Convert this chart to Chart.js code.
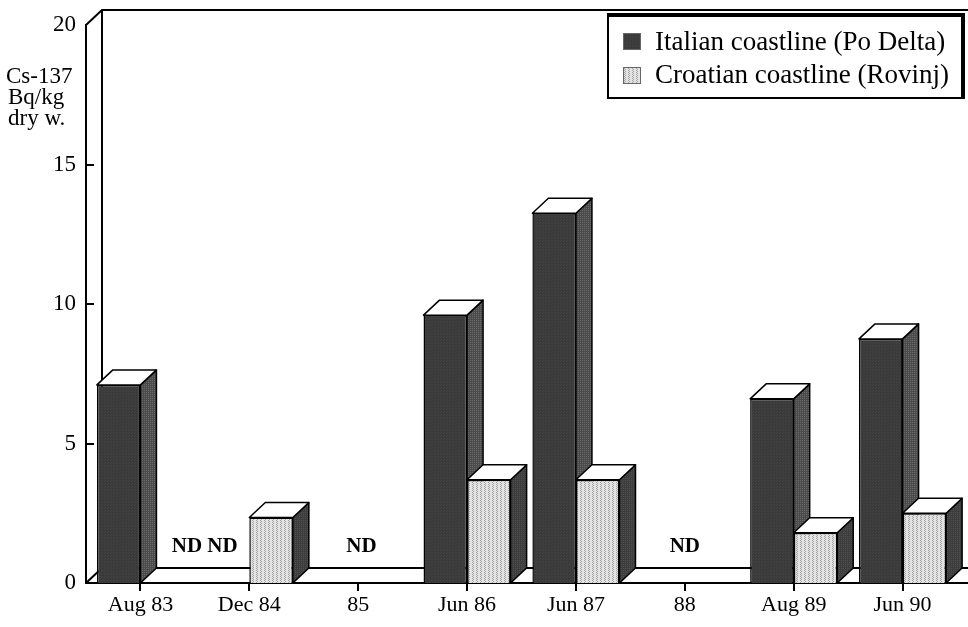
<!DOCTYPE html>
<html>
<head>
<meta charset="utf-8">
<script src="https://cdn.jsdelivr.net/npm/chart.js@4.4.1/dist/chart.umd.min.js"></script>
<style>
  html, body { margin: 0; padding: 0; background: #fff; }
  #wrap { width: 968px; height: 627px; }
</style>
</head>
<body>
<div id="wrap"><canvas id="c" width="968" height="627"></canvas></div>
<script>
// Cs-137 activity in sediments (Bq/kg dry weight); null = not detected
const categories = ['Aug 83', 'Dec 84', '85', 'Jun 86', 'Jun 87', '88', 'Aug 89', 'Jun 90'];
const italianValues = [7.1, null, null, 9.6, 13.25, null, 6.6, 8.75];
const croatianValues = [null, 2.35, null, 3.7, 3.7, null, 1.8, 2.5];
const seriesNames = ['Italian coastline (Po Delta)', 'Croatian coastline (Rovinj)'];
const yAxisTitle = ['Cs-137', 'Bq/kg', 'dry w.'];
const yTicks = [0, 5, 10, 15, 20];
const ndLabels = ['ND ND', 'ND', 'ND'];
const ndPositions = [0.59, 2.03, 5.0]; // category index positions

const SERIF = '"Liberation Serif", "DejaVu Serif", serif';
const DX = 16, DY = -15; // pseudo-3D depth offset

const canvas = document.getElementById('c');
const ctx0 = canvas.getContext('2d');

function makePattern(bg, dot, w, h, dots) {
  const c = document.createElement('canvas');
  c.width = w; c.height = h;
  const g = c.getContext('2d');
  g.fillStyle = bg; g.fillRect(0, 0, w, h);
  g.fillStyle = dot;
  dots.forEach(([x, y]) => g.fillRect(x, y, 1, 1));
  return ctx0.createPattern(c, 'repeat');
}

const italianFront = makePattern('#3a3a3a', '#444444', 3, 3, [[0, 0], [2, 1]]);
const italianSide = makePattern('#4b4b4b', '#6a6a6a', 2, 2, [[0, 0]]);
const croatianFront = makePattern('#e3e3e3', '#a3a3a3', 4, 2, [[0, 0], [1, 1]]);
const croatianSide = makePattern('#3d3d3d', '#505050', 2, 2, [[1, 0]]);

const depthPlugin = {
  id: 'depth3d',
  beforeDatasetsDraw(chart) {
    const { ctx, chartArea: a, scales: { x, y } } = chart;
    const base = y.getPixelForValue(0);
    const top = y.getPixelForValue(20);
    ctx.save();
    ctx.strokeStyle = '#000';
    ctx.lineWidth = 2;
    ctx.lineJoin = 'round';
    ctx.beginPath();
    // back wall
    ctx.moveTo(a.left + DX, base + DY);
    ctx.lineTo(a.left + DX, top + DY);
    ctx.lineTo(chart.width, top + DY);
    ctx.moveTo(a.left, top);
    ctx.lineTo(a.left + DX, top + DY);
    // floor
    ctx.moveTo(a.left, base);
    ctx.lineTo(a.left + DX, base + DY);
    ctx.lineTo(chart.width, base + DY);
    ctx.moveTo(a.right, base);
    ctx.lineTo(chart.width, base);
    ctx.stroke();
    // inward ticks on the value axis
    ctx.beginPath();
    yTicks.forEach(v => {
      if (v === 0 || v === 20) return;
      const py = Math.round(y.getPixelForValue(v));
      ctx.moveTo(a.left, py);
      ctx.lineTo(a.left + 8, py);
    });
    ctx.stroke();

    // side and top faces of every bar
    ctx.lineWidth = 1.5;
    chart.data.datasets.forEach((ds, di) => {
      const meta = chart.getDatasetMeta(di);
      meta.data.forEach((bar, i) => {
        if (ds.data[i] == null) return;
        const p = bar.getProps(['x', 'y', 'base', 'width'], true);
        const l = p.x - p.width / 2, r = p.x + p.width / 2;
        const ty = p.y, by = p.base;
        ctx.beginPath();
        ctx.moveTo(r, ty);
        ctx.lineTo(r + DX, ty + DY);
        ctx.lineTo(r + DX, by + DY);
        ctx.lineTo(r, by);
        ctx.closePath();
        ctx.fillStyle = ds.sideColor;
        ctx.fill();
        ctx.stroke();
        ctx.beginPath();
        ctx.moveTo(l, ty);
        ctx.lineTo(l + DX, ty + DY);
        ctx.lineTo(r + DX, ty + DY);
        ctx.lineTo(r, ty);
        ctx.closePath();
        ctx.fillStyle = '#ffffff';
        ctx.fill();
        ctx.stroke();
      });
    });
    ctx.restore();
  },
  afterDatasetsDraw(chart) {
    const { ctx, scales: { x, y } } = chart;
    const base = y.getPixelForValue(0);
    ctx.save();
    ctx.fillStyle = '#000';
    ctx.font = 'bold 21px ' + SERIF;
    ctx.textAlign = 'center';
    ctx.textBaseline = 'alphabetic';
    ndLabels.forEach((t, k) => {
      ctx.fillText(t, x.getPixelForValue(ndPositions[k]), base - 31);
    });
    ctx.restore();
  },
  afterDraw(chart) {
    const { ctx } = chart;
    ctx.save();
    // axis title
    ctx.fillStyle = '#000';
    ctx.font = '23px ' + SERIF;
    ctx.textAlign = 'left';
    ctx.textBaseline = 'alphabetic';
    yAxisTitle.forEach((t, k) => ctx.fillText(t, k === 0 ? 6 : 8, 83 + k * 21));

    // legend box
    const bx = 608, bw = 354, byy = 16, bh = 82;
    ctx.fillStyle = '#fff';
    ctx.fillRect(bx, byy, bw, bh);
    ctx.strokeStyle = '#000';
    ctx.lineWidth = 2;
    ctx.strokeRect(bx, byy, bw, bh);
    ctx.fillStyle = '#000';
    ctx.fillRect(bx - 1, byy - 3, bw + 4, 4);
    ctx.fillRect(bx + bw - 1, byy - 3, 4, bh + 4);
    ctx.font = '27px ' + SERIF;
    chart.data.datasets.forEach((ds, k) => {
      const sy = 33 + k * 34;
      ctx.fillStyle = ds.backgroundColor;
      ctx.fillRect(623, sy, 18, 17);
      ctx.strokeStyle = '#666';
      ctx.lineWidth = 1;
      ctx.strokeRect(623.5, sy + 0.5, 17, 16);
      ctx.fillStyle = '#000';
      ctx.fillText(ds.label, 655, 50 + k * 33);
    });
    ctx.restore();
  }
};

new Chart(canvas, {
  type: 'bar',
  data: {
    labels: categories,
    datasets: [
      {
        label: seriesNames[0],
        data: italianValues,
        backgroundColor: italianFront,
        sideColor: italianSide,
        borderColor: '#000',
        borderWidth: 1.5,
        categoryPercentage: 0.8,
        barPercentage: 1.0
      },
      {
        label: seriesNames[1],
        data: croatianValues,
        backgroundColor: croatianFront,
        sideColor: croatianSide,
        borderColor: '#000',
        borderWidth: 1.5,
        categoryPercentage: 0.8,
        barPercentage: 1.0
      }
    ]
  },
  options: {
    responsive: false,
    animation: false,
    events: [],
    layout: { padding: { left: 0, top: 25, right: 11, bottom: 0 } },
    plugins: {
      legend: { display: false },
      tooltip: { enabled: false }
    },
    scales: {
      x: {
        grid: {
          display: true,
          drawOnChartArea: false,
          drawTicks: true,
          tickLength: 8,
          offset: false,
          color: '#000',
          lineWidth: 2
        },
        border: { display: true, color: '#000', width: 2 },
        ticks: {
          color: '#000',
          padding: 1,
          font: { family: SERIF, size: 22 },
          maxRotation: 0
        },
        afterFit(s) { s.height = 44; }
      },
      y: {
        min: 0,
        max: 20,
        afterBuildTicks(s) { s.ticks = yTicks.map(v => ({ value: v })); },
        grid: { display: false, drawTicks: false },
        border: { display: true, color: '#000', width: 2 },
        ticks: {
          color: '#000',
          padding: 10,
          font: { family: SERIF, size: 23 }
        },
        afterFit(s) { s.width = 86; }
      }
    }
  },
  plugins: [depthPlugin]
});
</script>
</body>
</html>
